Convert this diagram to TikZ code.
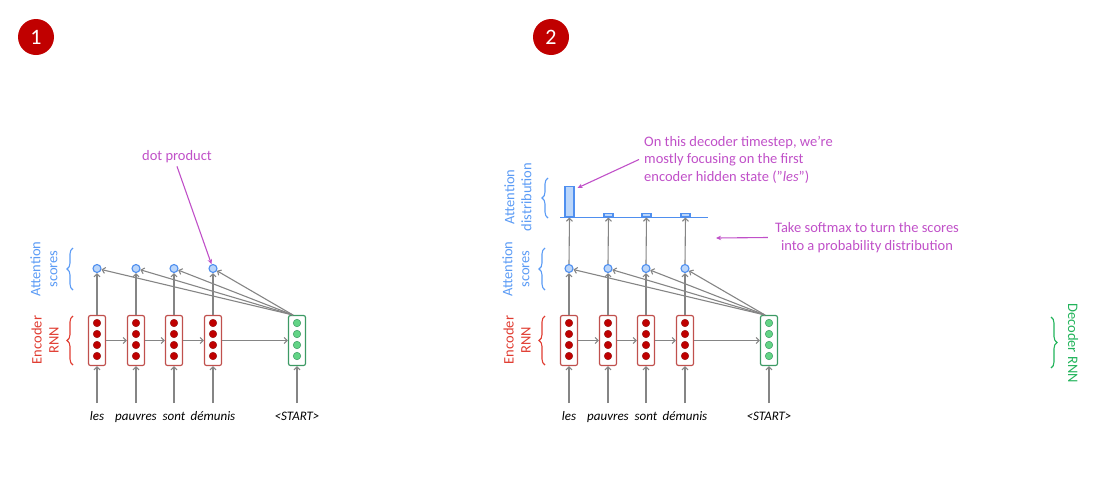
\documentclass[tikz,border=0pt]{standalone}
\usepackage{fontspec}
\setmainfont{Carlito}
\usetikzlibrary{arrows.meta,decorations.pathreplacing,calc}
\definecolor{encred}{HTML}{C0504D}
\definecolor{dotred}{HTML}{C00000}
\definecolor{dotredline}{HTML}{9A1515}
\definecolor{decgreen}{HTML}{3C9A64}
\definecolor{dotgreen}{HTML}{63D486}
\definecolor{scoreblue}{HTML}{4F8FEF}
\definecolor{scorefill}{HTML}{BBD6FA}
\definecolor{labblue}{HTML}{5B9BF5}
\definecolor{labred}{HTML}{E03C31}
\definecolor{labgreen}{HTML}{21B35A}
\definecolor{mag}{HTML}{C050C8}
\definecolor{arrgray}{HTML}{858585}
\definecolor{numred}{HTML}{C00000}
\tikzset{
  encbox/.style={rectangle, rounded corners=2pt, draw=encred, line width=1.2pt, fill=white, minimum width=17pt, minimum height=50pt, inner sep=0pt},
  decbox/.style={encbox, draw=decgreen},
  rdot/.style={circle, fill=dotred, draw=dotredline, line width=0.5pt, minimum size=7.5pt, inner sep=0pt},
  gdot/.style={circle, fill=dotgreen, draw=decgreen, line width=0.5pt, minimum size=7.5pt, inner sep=0pt},
  score/.style={circle, fill=scorefill, draw=scoreblue, line width=1.1pt, minimum size=8pt, inner sep=0pt},
  bar/.style={rectangle, fill=scorefill, draw=scoreblue, line width=1.1pt, minimum width=9pt, inner sep=0pt, anchor=south},
  arr/.style={draw=arrgray, line width=1.1pt, -{Straight Barb[length=3pt,width=6pt]}},
  marr/.style={draw=mag, line width=1.1pt, -{Stealth[length=5pt,width=4.5pt]}},
  word/.style={font=\fontsize{13}{15}\selectfont\itshape, inner sep=0pt, anchor=base},
  vlab/.style={font=\fontsize{14.5}{17}\selectfont, align=center, inner sep=0pt},
  ann/.style={font=\fontsize{14.5}{17.5}\selectfont, text=mag, inner sep=0pt},
  lbrace/.style={decorate, decoration={brace, amplitude=6pt}, line width=1.1pt},
  numc/.style={circle, fill=numred, minimum size=36pt, inner sep=0pt, text=white, font=\fontsize{22}{22}\selectfont}
}
\begin{document}
\begin{tikzpicture}[x=1pt,y=-1pt]
\useasboundingbox (0,0) rectangle (1096,493);

\node[numc] (num1) at (36,37) {1};
\node[numc] (num2) at (551,37) {2};

\foreach \p/\o in {1/0,2/472}{
  % encoder boxes, dots, words, scores
  \foreach \i/\x/\w in {1/97/les,2/136/pauvres,3/174/sont,4/213/démunis}{
    \node[encbox] (e\p\i) at (\x+\o,340.5) {};
    \foreach \k/\yy in {1/323,2/334,3/345,4/356}{
      \node[rdot] (e\p\i d\k) at (\x+\o,\yy) {};
    }
    \node[word] (w\p\i) at (\x+\o,420) {\w};
    \coordinate (i\p\i) at (\x+\o,403);
    \node[score] (s\p\i) at (\x+\o,268.5) {};
    \draw[arr] (i\p\i) -- (e\p\i.south);
    \draw[arr] (e\p\i.north) -- (s\p\i.south);
  }
  % decoder
  \node[decbox] (d\p) at (297+\o,340.5) {};
  \foreach \k/\yy in {1/323,2/334,3/345,4/356}{
    \node[gdot] (d\p d\k) at (297+\o,\yy) {};
  }
  \node[word] (w\p5) at (297+\o,420) {<START>};
  \coordinate (i\p5) at (297+\o,403);
  \draw[arr] (i\p5) -- (d\p.south);
  % horizontal
  \draw[arr] (e\p1.east) -- (e\p2.west);
  \draw[arr] (e\p2.east) -- (e\p3.west);
  \draw[arr] (e\p3.east) -- (e\p4.west);
  \draw[arr] (e\p4.east) -- (d\p.west);
  % decoder to scores
  \coordinate (c\p) at (293+\o,315);
  \foreach \i in {1,2,3,4}{
    \draw[arr] (c\p) -- (s\p\i);
  }
  % braces and labels
  \draw[lbrace, draw=labblue] (73+\o,290) -- (73+\o,248);
  \draw[lbrace, draw=labred] (73+\o,365) -- (73+\o,316);
  \node[vlab, text=labblue, rotate=90] (ls\p) at (44+\o,269) {Attention\\scores};
  \node[vlab, text=labred, rotate=90] (le\p) at (45+\o,340) {Encoder\\RNN};
}

% panel 1 annotation
\node[ann] (dp) at (177,157) {dot product};
\draw[marr] ([yshift=-3pt]dp.south) -- (s14);

% panel 2 attention distribution
\draw[draw=scoreblue, line width=1.3pt] (560,217.5) coordinate (bl) -- (708,217.5) coordinate (br);
\node[bar, minimum height=30.5pt] (b21) at (569.5,217.5) {};
\node[bar, minimum height=3.5pt] (b22) at (608.5,217.5) {};
\node[bar, minimum height=3.5pt] (b23) at (646.5,217.5) {};
\node[bar, minimum height=3.5pt] (b24) at (685.5,217.5) {};
\foreach \i in {1,2,3,4}{
  \draw[arr] (s2\i.north) -- (b2\i.south);
}
\draw[lbrace, draw=labblue] (548,218) -- (548,178);
\node[vlab, text=labblue, rotate=90] (ld) at (518,197) {Attention\\distribution};

\node[ann, anchor=west, align=left] (foc) at (644,159.5) {On this decoder timestep, we’re\\mostly focusing on the first\\encoder hidden state (”\textit{les}”)};
\draw[marr] ([xshift=-5pt]foc.west) -- ([xshift=3pt,yshift=-2pt]b21.north east);

\node[ann, align=center] (sm) at (867,237.5) {Take softmax to turn the scores\\into a probability distribution};
\coordinate (smend) at (716,238);
\draw[marr] ([xshift=-7pt]sm.west) -- (smend);

% decoder RNN label
\draw[lbrace, draw=labgreen] (1051,317) -- (1051,368);
\node[vlab, text=labgreen, rotate=-90] (ldec) at (1073,343) {Decoder RNN};
\end{tikzpicture}
\end{document}
